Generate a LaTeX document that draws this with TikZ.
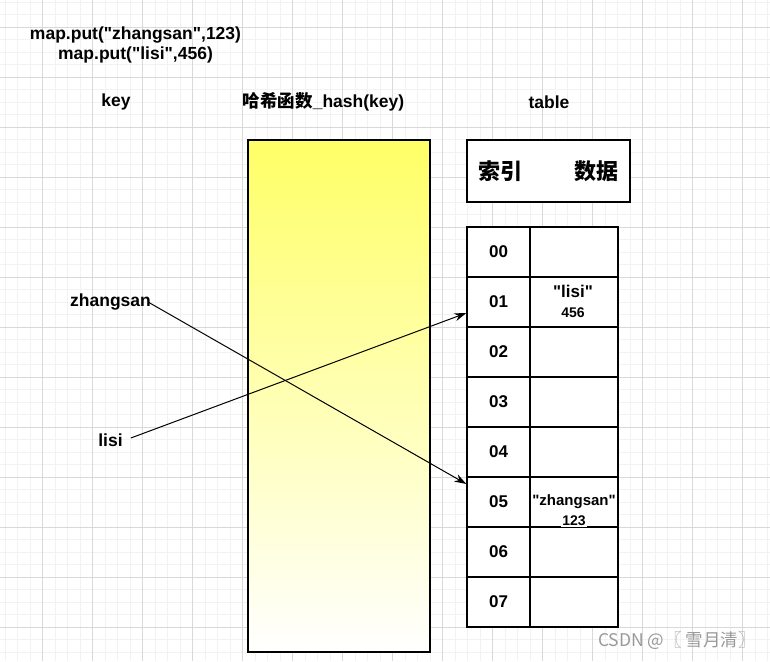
\documentclass[tikz,border=0pt]{standalone}
\usepackage{fontspec}
\setmainfont{Liberation Sans}
\newfontfamily\cjk{Noto Sans CJK SC}
\usetikzlibrary{arrows.meta,positioning,calc}

\begin{document}
\begin{tikzpicture}[x=1pt, y=-1pt,
    minorline/.style={draw=black!5, line width=0.7pt},
    majorline/.style={draw=black!15, line width=0.8pt},
    cell/.style={draw, rectangle, fill=white, line width=1.3pt, minimum width=63pt, minimum height=50pt, inner sep=0pt, font=\bfseries\fontsize{17}{20}\selectfont},
    datacell/.style={cell, minimum width=88pt},
    entry/.style={fill=white, inner sep=1pt, font=\bfseries\fontsize{15}{18}\selectfont},
    label/.style={font=\bfseries\fontsize{17.5}{21}\selectfont},
    edge/.style={-{Stealth[length=12pt,width=8pt]}, line width=1pt},
]
\useasboundingbox (0,0) rectangle (770,661);

% Background grid
\foreach \i in {0,...,61} {\draw[minorline] (5+12.5*\i,0) -- (5+12.5*\i,661);}
\foreach \i in {0,...,53} {\draw[minorline] (0,2.3+12.5*\i) -- (770,2.3+12.5*\i);}
\foreach \i in {0,...,15} {\draw[majorline] (-7.5+50*\i,0) -- (-7.5+50*\i,661);}
\foreach \i in {0,...,13} {\draw[majorline] (0,27.3+50*\i) -- (770,27.3+50*\i);}

% Code
\node[label] (code1) at (135.5,35) {map.put(\textquotedbl zhangsan\textquotedbl,123)};
\node[label] (code2) at (135.5,55) {map.put(\textquotedbl lisi\textquotedbl,456)};

% Column titles
\node[label] (keytitle) at (116,102) {key};
\node[label] (hashtitle) at (323.5,102) {{\cjk 哈希函数}\_hash(key)};
\node[label] (tabletitle) at (549,102) {table};

% Hash function
\node[draw, rectangle, line width=1.3pt, minimum width=182pt, minimum height=512pt, top color=yellow!60, bottom color=white] (hash) at (339,396) {};

% Table header
\node[draw, rectangle, fill=white, line width=1.3pt, minimum width=163pt, minimum height=62pt] (head) at (548.5,171) {};
\node[font=\cjk\bfseries\fontsize{22}{26}\selectfont] (idxhead) at (500,171) {索引};
\node[font=\cjk\bfseries\fontsize{22}{26}\selectfont] (datahead) at (596,171) {数据};

% Table rows
\node[cell] (r00) at (498.5,252) {00};
\node[datacell] (d00) at (574,252) {};
\node[cell] (r01) at (498.5,302) {01};
\node[datacell] (d01) at (574,302) {};
\node[cell] (r02) at (498.5,352) {02};
\node[datacell] (d02) at (574,352) {};
\node[cell] (r03) at (498.5,402) {03};
\node[datacell] (d03) at (574,402) {};
\node[cell] (r04) at (498.5,452) {04};
\node[datacell] (d04) at (574,452) {};
\node[cell] (r05) at (498.5,502) {05};
\node[datacell] (d05) at (574,502) {};
\node[cell] (r06) at (498.5,552) {06};
\node[datacell] (d06) at (574,552) {};
\node[cell] (r07) at (498.5,602) {07};
\node[datacell] (d07) at (574,602) {};

% Stored entries
\node[entry, font=\bfseries\fontsize{17}{20}\selectfont] (lisival) at (573,291) {\textquotedbl lisi\textquotedbl};
\node[entry, font=\bfseries\fontsize{14}{17}\selectfont] (lisinum) at (573,313) {456};
\node[entry] (zsval) at (574,502) {\textquotedbl zhangsan\textquotedbl};
\node[entry, font=\bfseries\fontsize{14}{17}\selectfont] (zsnum) at (574,521) {123};

% Keys
\node[label, inner sep=0pt] (zs) at (110.5,302) {zhangsan};
\node[label, inner sep=0pt] (ls) at (110.5,440) {lisi};

% Edges
\draw[edge] ([xshift=-3pt]zs.east) -- ($(r05.west)+(0,-18)$);
\draw[edge] ([xshift=8pt,yshift=2pt]ls.east) -- ($(r01.west)+(0,11)$);

% Watermark
\node[font=\cjk\fontsize{17.5}{20}\selectfont, text=black!40] (mark) at (677,641) {CSDN @〖 雪月清〗};

\end{tikzpicture}
\end{document}
